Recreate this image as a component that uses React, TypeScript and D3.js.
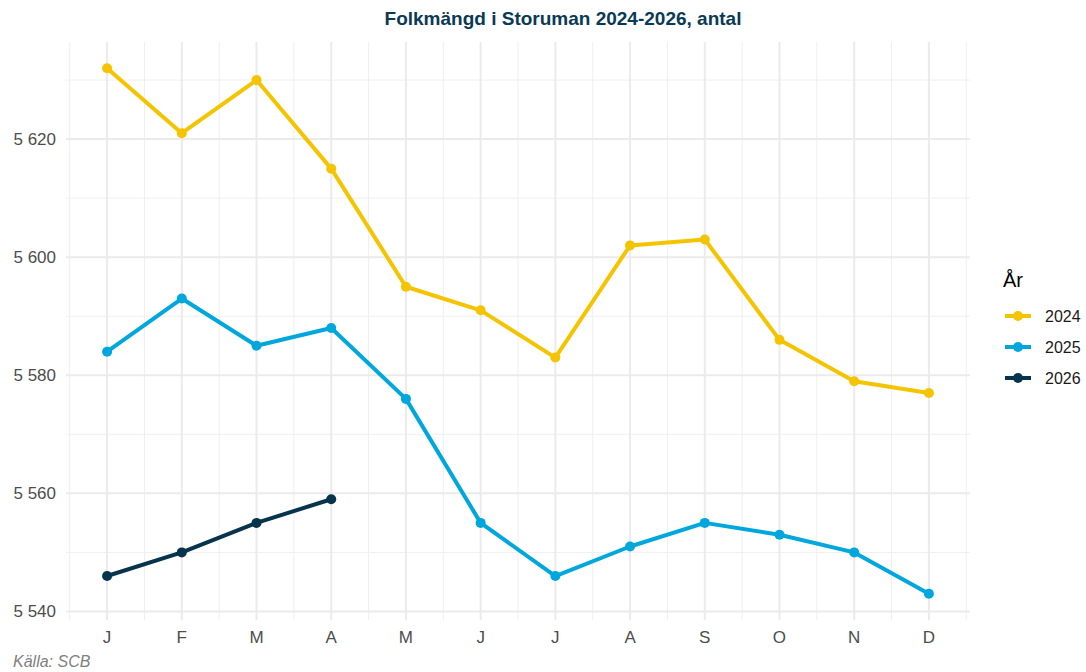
import React, { useEffect, useRef } from 'react';
import * as d3 from 'd3';

const months = ['J', 'F', 'M', 'A', 'M', 'J', 'J', 'A', 'S', 'O', 'N', 'D'];
const years = ['2024', '2025', '2026'];
const values2024 = [5632, 5621, 5630, 5615, 5595, 5591, 5583, 5602, 5603, 5586, 5579, 5577];
const values2025 = [5584, 5593, 5585, 5588, 5576, 5555, 5546, 5551, 5555, 5553, 5550, 5543];
const values2026 = [5546, 5550, 5555, 5559];
const yTicks = [5540, 5560, 5580, 5600, 5620];
const yMinor = [5550, 5570, 5590, 5610, 5630];
const colors = ['#F5C400', '#00A7DD', '#06344D'];

const App: React.FC = () => {
  const svgRef = useRef<SVGSVGElement | null>(null);

  useEffect(() => {
    if (!svgRef.current) return;
    const width = 1086;
    const height = 672;
    const panel = { left: 66, right: 970, top: 42, bottom: 620 };
    const font = '"Liberation Sans", Arial, sans-serif';

    const svg = d3.select(svgRef.current);
    svg.selectAll('*').remove();
    svg.attr('width', width).attr('height', height).style('font-family', font);

    const series = [values2024, values2025, values2026];
    const all = series.flat();
    const lo = d3.min(all)!;
    const hi = d3.max(all)!;
    const pad = (hi - lo) * 0.05;

    // discrete x, expanded a little past first/last month
    const x = d3.scaleLinear()
      .domain([-0.55, months.length - 1 + 0.55])
      .range([panel.left, panel.right]);
    const y = d3.scaleLinear()
      .domain([lo - pad, hi + pad])
      .range([panel.bottom, panel.top]);

    const grid = svg.append('g');
    // minor grid
    grid.selectAll('line.vminor')
      .data(d3.range(months.length - 1).map(i => i + 0.5).concat([-0.5, months.length - 0.5]))
      .enter().append('line')
      .attr('x1', d => x(d)).attr('x2', d => x(d))
      .attr('y1', panel.top).attr('y2', panel.bottom)
      .attr('stroke', '#efefef').attr('stroke-width', 1);
    grid.selectAll('line.hminor')
      .data(yMinor)
      .enter().append('line')
      .attr('x1', panel.left).attr('x2', panel.right)
      .attr('y1', d => y(d)).attr('y2', d => y(d))
      .attr('stroke', '#efefef').attr('stroke-width', 1);
    // major grid
    grid.selectAll('line.vmajor')
      .data(d3.range(months.length))
      .enter().append('line')
      .attr('x1', d => x(d)).attr('x2', d => x(d))
      .attr('y1', panel.top).attr('y2', panel.bottom)
      .attr('stroke', '#ebebeb').attr('stroke-width', 2);
    grid.selectAll('line.hmajor')
      .data(yTicks)
      .enter().append('line')
      .attr('x1', panel.left).attr('x2', panel.right)
      .attr('y1', d => y(d)).attr('y2', d => y(d))
      .attr('stroke', '#ebebeb').attr('stroke-width', 2);

    // axis labels
    const fmt = (v: number) => d3.format(',')(v).replace(',', ' ');
    svg.append('g').selectAll('text')
      .data(yTicks)
      .enter().append('text')
      .attr('x', 56).attr('y', d => y(d))
      .attr('dy', '0.35em')
      .attr('text-anchor', 'end')
      .attr('fill', '#4d4d4d')
      .style('font-size', '17px')
      .text(d => fmt(d));
    svg.append('g').selectAll('text')
      .data(months)
      .enter().append('text')
      .attr('x', (_, i) => x(i)).attr('y', 643)
      .attr('text-anchor', 'middle')
      .attr('fill', '#4d4d4d')
      .style('font-size', '17px')
      .text(d => d);

    // lines
    const line = d3.line<number>()
      .x((_, i) => x(i))
      .y(d => y(d));
    series.forEach((vals, k) => {
      const g = svg.append('g');
      g.append('path')
        .datum(vals)
        .attr('fill', 'none')
        .attr('stroke', colors[k])
        .attr('stroke-width', 4)
        .attr('stroke-linejoin', 'round')
        .attr('d', line);
      g.selectAll('circle')
        .data(vals)
        .enter().append('circle')
        .attr('cx', (_, i) => x(i))
        .attr('cy', d => y(d))
        .attr('r', 5)
        .attr('fill', colors[k]);
    });

    // title
    svg.append('text')
      .attr('x', 563).attr('y', 25)
      .attr('text-anchor', 'middle')
      .attr('fill', '#0B3A55')
      .style('font-size', '19px')
      .style('font-weight', 'bold')
      .text('Folkmängd i Storuman 2024-2026, antal');

    // legend
    const legend = svg.append('g');
    legend.append('text')
      .attr('x', 1003).attr('y', 287)
      .attr('fill', '#000')
      .style('font-size', '20px')
      .text('År');
    years.forEach((yr, k) => {
      const cy = 316 + k * 31;
      legend.append('line')
        .attr('x1', 1005).attr('x2', 1031)
        .attr('y1', cy).attr('y2', cy)
        .attr('stroke', colors[k]).attr('stroke-width', 4);
      legend.append('circle')
        .attr('cx', 1018).attr('cy', cy).attr('r', 5)
        .attr('fill', colors[k]);
      legend.append('text')
        .attr('x', 1045).attr('y', cy)
        .attr('dy', '0.35em')
        .attr('fill', '#1a1a1a')
        .style('font-size', '16px')
        .text(yr);
    });

    // caption
    svg.append('text')
      .attr('x', 13).attr('y', 667)
      .attr('fill', '#808080')
      .style('font-size', '16px')
      .style('font-style', 'italic')
      .text('Källa: SCB');
  }, []);

  return (
    <div style={{ position: 'absolute', left: 0, top: 0 }}>
      <svg ref={svgRef} />
    </div>
  );
};

export default App;
